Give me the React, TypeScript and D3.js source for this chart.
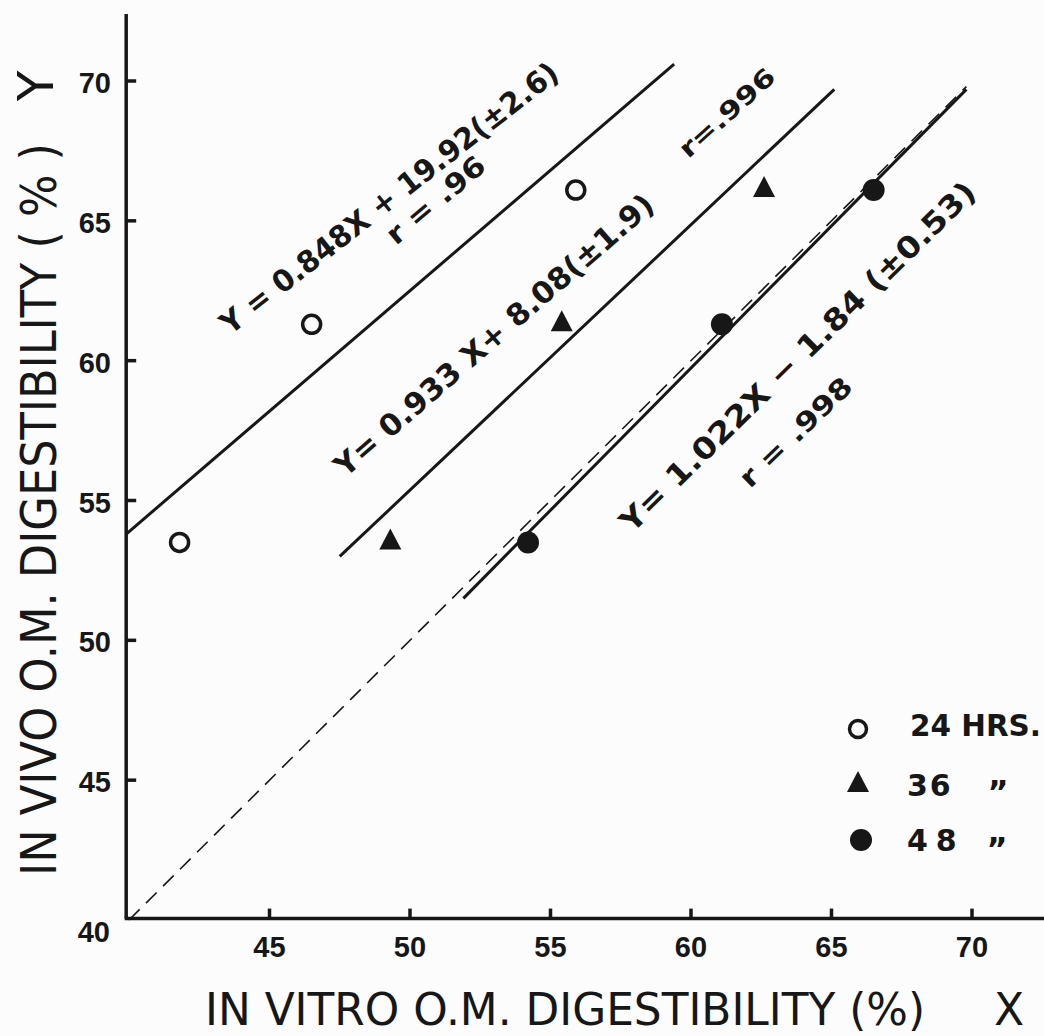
import React from "react";
import * as d3 from "d3";

// in vivo O.M. digestibility, same three rations for every incubation time
const inVivo = [53.5, 61.3, 66.1];
// in vitro O.M. digestibility after 24, 36 and 48 hours
const inVitro24 = [41.8, 46.5, 55.9];
const inVitro36 = [49.3, 55.4, 62.6];
const inVitro48 = [54.2, 61.1, 66.5];

const xTicks = [45, 50, 55, 60, 65, 70];
const yTicks = [45, 50, 55, 60, 65, 70];

// fitted lines as drawn (start / end, in data units)
const fit24 = [[39.9, 53.8], [59.4, 70.6]];
const fit36 = [[47.5, 53.0], [65.1, 69.7]];
const fit48 = [[51.9, 51.5], [69.8, 69.7]];
const identity = [[40, 40], [69.8, 69.8]];

const equations = ["Y = 0.848X + 19.92(±2.6)", "Y= 0.933 X+ 8.08(±1.9)", "Y= 1.022X − 1.84 (±0.53)"];
const rValues = ["r = .96", "r=.996", "r = .998"];
const legendLabels = ["24 HRS.", "36", "48"];

const W = 1044;
const H = 1036;
const INK = "#171717";
const FONT = "'DejaVu Sans', sans-serif";

// where the hand lettering sits: [x, y, angle, length, fontSize]
const eqLayout = [
  [43.6, 60.9, -38, 420, 30],
  [47.7, 55.8, -41, 412, 30],
  [57.9, 53.8, -44.5, 485, 30],
];
const rLayout = [
  [49.5, 64.1, -40, 120, 28],
  [59.9, 67.2, -42, 120, 25],
  [62.1, 55.4, -44, 145, 27],
];

export default function App() {
  const x = d3.scaleLinear().domain([40, 70]).range([129, 972]);
  const y = d3.scaleLinear().domain([40, 70]).range([920, 81]);
  const line = d3
    .line<number[]>()
    .x((d) => x(d[0]))
    .y((d) => y(d[1]));

  const axisX = x(39.9);
  const axisY = y(40.05);

  const tri = (cx: number, cy: number, w = 22, h = 21) => {
    const p = d3.path();
    p.moveTo(cx, cy - (2 * h) / 3);
    p.lineTo(cx + w / 2, cy + h / 3);
    p.lineTo(cx - w / 2, cy + h / 3);
    p.closePath();
    return p.toString();
  };

  return (
    <svg
      width={W}
      height={H}
      style={{ position: "absolute", left: 0, top: 0, display: "block", background: "#fcfcfc" }}
    >
      {/* axes */}
      <line x1={axisX} x2={axisX} y1={y(72.4)} y2={axisY} stroke={INK} strokeWidth={3.5} />
      <line x1={axisX - 1.5} x2={x(72.7)} y1={axisY} y2={axisY} stroke={INK} strokeWidth={3.5} />
      {yTicks.map((t) => (
        <g key={"y" + t}>
          <line x1={axisX} x2={axisX + 10} y1={y(t)} y2={y(t)} stroke={INK} strokeWidth={3.5} />
          <text
            x={111}
            y={y(t) + 12}
            textAnchor="end"
            fontFamily="'Liberation Sans', sans-serif"
            fontWeight="bold"
            fontSize={29}
            fill={INK}
          >
            {t}
          </text>
        </g>
      ))}
      <text x={110} y={942} textAnchor="end" fontFamily="'Liberation Sans', sans-serif" fontWeight="bold" fontSize={29} fill={INK}>
        40
      </text>
      {xTicks.map((t) => (
        <g key={"x" + t}>
          <line x1={x(t)} x2={x(t)} y1={axisY} y2={axisY - 10} stroke={INK} strokeWidth={3.5} />
          <text
            x={x(t)}
            y={957}
            textAnchor="middle"
            fontFamily="'Liberation Sans', sans-serif"
            fontWeight="bold"
            fontSize={29}
            fill={INK}
          >
            {t}
          </text>
        </g>
      ))}

      {/* axis titles */}
      <text
        transform={`translate(56,876) rotate(-90)`}
        fontFamily={FONT}
        fontSize={50}
        fill={INK}
        textLength={733}
        lengthAdjust="spacingAndGlyphs"
      >
        IN VIVO O.M. DIGESTIBILITY ( % )
      </text>
      <text transform={`translate(53,86) rotate(-90)`} textAnchor="middle" fontFamily={FONT} fontSize={50} fill={INK}>
        Y
      </text>
      <text x={205} y={1025} fontFamily={FONT} fontSize={44} fill={INK} textLength={720} lengthAdjust="spacingAndGlyphs">
        IN VITRO O.M.  DIGESTIBILITY (%)
      </text>
      <text x={994} y={1025} fontFamily={FONT} fontSize={44} fill={INK}>
        X
      </text>

      {/* 1:1 line and fitted lines */}
      <path d={line(identity) ?? ""} fill="none" stroke={INK} strokeWidth={1.6} strokeDasharray="15 9" />
      {[fit24, fit36, fit48].map((f, i) => (
        <path key={"f" + i} d={line(f) ?? ""} fill="none" stroke={INK} strokeWidth={3} />
      ))}

      {/* points */}
      {inVitro24.map((v, i) => (
        <circle key={"a" + i} cx={x(v)} cy={y(inVivo[i])} r={9} fill="none" stroke={INK} strokeWidth={3.5} />
      ))}
      {inVitro36.map((v, i) => (
        <path key={"b" + i} d={tri(x(v), y(inVivo[i]))} fill={INK} />
      ))}
      {inVitro48.map((v, i) => (
        <circle key={"c" + i} cx={x(v)} cy={y(inVivo[i])} r={11} fill={INK} />
      ))}

      {/* equations */}
      {equations.map((s, i) => {
        const [ex, ey, a, len, fs] = eqLayout[i];
        return (
          <text
            key={"e" + i}
            transform={`translate(${x(ex)},${y(ey)}) rotate(${a})`}
            fontFamily={FONT}
            fontWeight="bold"
            fontSize={fs}
            fill={INK}
            textLength={len}
            lengthAdjust="spacingAndGlyphs"
          >
            {s}
          </text>
        );
      })}
      {rValues.map((s, i) => {
        const [ex, ey, a, len, fs] = rLayout[i];
        return (
          <text
            key={"r" + i}
            transform={`translate(${x(ex)},${y(ey)}) rotate(${a})`}
            fontFamily={FONT}
            fontWeight="bold"
            fontSize={fs}
            fill={INK}
            textLength={len}
            lengthAdjust="spacingAndGlyphs"
          >
            {s}
          </text>
        );
      })}

      {/* legend */}
      <g fontFamily={FONT} fontWeight="bold" fontSize={30} fill={INK}>
        <circle cx={858} cy={729} r={8.5} fill="none" stroke={INK} strokeWidth={3.5} />
        <path d={tri(858, 785)} fill={INK} />
        <circle cx={861} cy={840} r={11} fill={INK} />
        <text x={910} y={736} textLength={131} lengthAdjust="spacingAndGlyphs">
          {legendLabels[0]}
        </text>
        <text x={907} y={796} letterSpacing={2}>
          {legendLabels[1]}
        </text>
        <text x={907} y={851} letterSpacing={8}>
          {legendLabels[2]}
        </text>
        <text x={998} y={803} textAnchor="middle" fontSize={32}>
          {"\u201D"}
        </text>
        <text x={997} y={860} textAnchor="middle" fontSize={32}>
          {"\u201D"}
        </text>
      </g>
    </svg>
  );
}
